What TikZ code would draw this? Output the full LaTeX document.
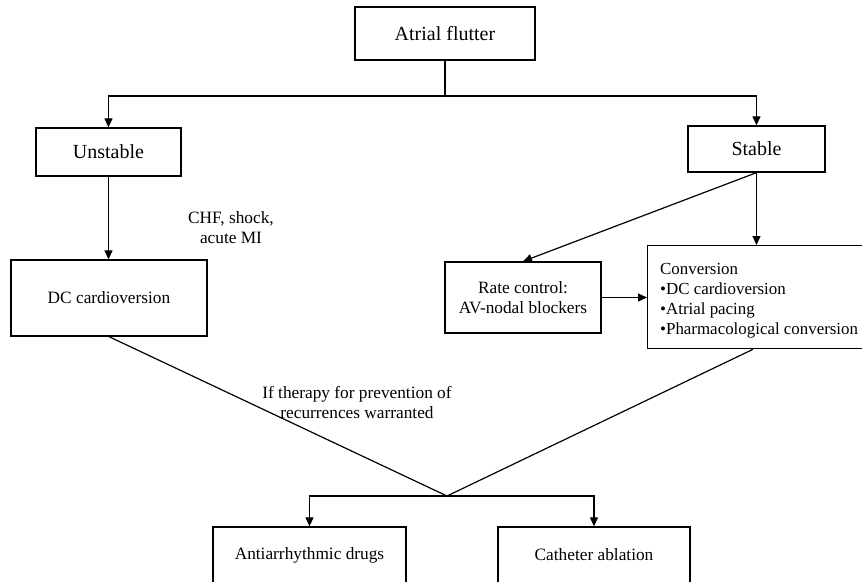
\documentclass[tikz,border=0pt]{standalone}
\usepackage{fontspec}
\setmainfont{Liberation Serif}
\usetikzlibrary{arrows.meta,calc}
\tikzset{
  box/.style={draw, line width=1.3pt, inner sep=0pt, font=\fontsize{17.3}{20}\selectfont, align=center},
  bigbox/.style={box, font=\fontsize{20}{24}\selectfont},
  txt/.style={inner sep=0pt, font=\fontsize{17.3}{20}\selectfont, align=center},
  conn/.style={line width=1.2pt},
  arr/.style={conn, -{Triangle[length=9pt,width=8pt]}}
}
\begin{document}
\begin{tikzpicture}[x=1pt,y=-1pt]
\fill[white] (0,0) rectangle (862,581);
\useasboundingbox (0,0) rectangle (862,581);
\clip (0,0) rectangle (862,581);
% nodes
\node[bigbox, minimum width=180, minimum height=53] (af) at (445,33.5) {Atrial flutter};
\node[bigbox, minimum width=145, minimum height=48] (unst) at (108.5,152) {Unstable};
\node[bigbox, minimum width=137, minimum height=46] (stab) at (756.5,149) {Stable};
\node[box, minimum width=196, minimum height=76] (dc) at (109,298) {DC cardioversion};
\node[box, minimum width=156, minimum height=71] (rate) at (523,297.5) {Rate control:\\AV-nodal blockers};
\node[box, anchor=north west, minimum width=230, minimum height=103] (conv) at (647,245) {};
\node[txt, anchor=north west, align=left, font=\fontsize{16.9}{20}\selectfont] (convtxt) at ($(conv.north west)+(13,18)$) {Conversion\\\textbullet DC cardioversion\\\textbullet Atrial pacing\\\textbullet Pharmacological conversion};
\node[box, minimum width=193, minimum height=56] (anti) at (309.5,555) {Antiarrhythmic drugs};
\node[box, minimum width=192, minimum height=56] (cath) at (594,555) {Catheter ablation};
\node[txt] (chf) at (231,228) {CHF, shock,\\acute MI};
\node[txt] (ift) at (357,402) {If therapy for prevention of\\recurrences warranted};
\coordinate (top) at (445,96);
\coordinate (J) at (447,496);
% connectors
\draw[conn] (af.south) -- (top);
\draw[arr] (top) -| (unst.north);
\draw[arr] (top) -| (stab.north);
\draw[arr] (unst.south) -- (unst.south |- dc.north);
\draw[arr] (stab.south) -- (stab.south |- conv.north);
\draw[arr] (stab.south) -- (rate.north);
\draw[arr] (rate.east) -- (rate.east -| conv.west);
\draw[conn] (dc.south) -- (J);
\draw[conn] ($(conv.south west)+(106,0)$) -- (J);
\draw[arr] (J) -| (anti.north);
\draw[arr] (J) -| (cath.north);
\end{tikzpicture}
\end{document}
